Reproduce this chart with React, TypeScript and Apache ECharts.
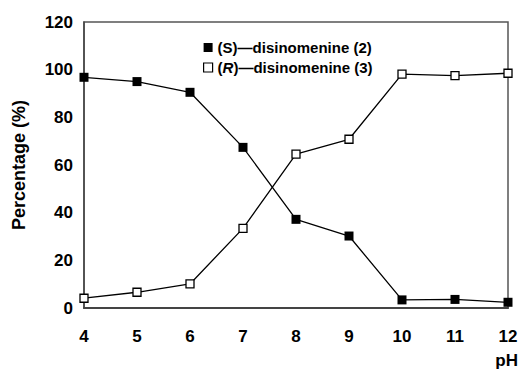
import React, { useEffect, useRef } from "react";
import * as echarts from "echarts";

const phValues = [4, 5, 6, 7, 8, 9, 10, 11, 12];
const sValues = [96.8, 95.0, 90.5, 67.4, 37.2, 30.2, 3.4, 3.6, 2.4];
const rValues = [4.1, 6.6, 10.1, 33.4, 64.6, 70.8, 98.1, 97.5, 98.5];
const seriesNames = ["(S)\u2014disinomenine (2)", "(R)\u2014disinomenine (3)"];
const yAxisTitle = "Percentage (%)";
const xAxisTitle = "pH";

const FONT = "'Liberation Sans', Arial, Helvetica, sans-serif";

export default function App() {
  const ref = useRef<HTMLDivElement>(null);
  useEffect(() => {
    if (!ref.current) return;
    const chart = echarts.init(ref.current, null, { renderer: "svg" });
    const sData = phValues.map((x, i) => [x, sValues[i]]);
    const rData = phValues.map((x, i) => [x, rValues[i]]);
    const legendRich = {
      n: { fontFamily: FONT, fontWeight: 700, fontSize: 15, color: "#000" },
      i: { fontFamily: FONT, fontWeight: 700, fontStyle: "italic", fontSize: 15, color: "#000" },
    };
    chart.setOption({
      animation: false,
      backgroundColor: "#fff",
      grid: {
        left: 84,
        right: 17,
        top: 22,
        bottom: 63,
        show: true,
        borderColor: "#555",
        borderWidth: 1.5,
        containLabel: false,
      },
      legend: {
        orient: "vertical",
        left: 203,
        top: 40,
        itemWidth: 9,
        itemHeight: 9,
        itemGap: 5,
        padding: 0,
        data: [
          { name: seriesNames[0], icon: "rect", itemStyle: { color: "#000", borderColor: "#000", borderWidth: 0 } },
          { name: seriesNames[1], icon: "rect", itemStyle: { color: "#fff", borderColor: "#000", borderWidth: 1.2 } },
        ],
        formatter: (name: string) => {
          if (name === seriesNames[1]) {
            return "{n|(}{i|R}{n|)\u2014disinomenine (3)}";
          }
          return "{n|" + name + "}";
        },
        textStyle: { fontFamily: FONT, fontWeight: 700, fontSize: 15, color: "#000", rich: legendRich },
      },
      xAxis: {
        type: "value",
        min: 4,
        max: 12,
        interval: 1,
        axisLine: { show: true, lineStyle: { color: "#444", width: 2 } },
        axisTick: { show: false },
        splitLine: { show: false },
        axisLabel: {
          margin: 20,
          fontFamily: FONT,
          fontWeight: "bold",
          fontSize: 17,
          color: "#000",
        },
      },
      yAxis: {
        type: "value",
        min: 0,
        max: 120,
        interval: 20,
        name: yAxisTitle,
        nameLocation: "middle",
        nameGap: 56,
        nameTextStyle: { fontFamily: FONT, fontWeight: "bold", fontSize: 18, color: "#000" },
        axisLine: { show: true, lineStyle: { color: "#444", width: 1.5 } },
        axisTick: { show: false },
        splitLine: { show: false },
        axisLabel: {
          margin: 11,
          fontFamily: FONT,
          fontWeight: "bold",
          fontSize: 17,
          color: "#000",
        },
      },
      graphic: [
        {
          type: "text",
          right: 7,
          top: 352,
          style: { text: xAxisTitle, fontFamily: FONT, fontWeight: "bold", fontSize: 17, fill: "#000" },
        },
      ],
      series: [
        {
          name: seriesNames[0],
          type: "line",
          data: sData,
          symbol: "rect",
          symbolSize: 9,
          lineStyle: { color: "#000", width: 1.3 },
          itemStyle: { color: "#000", borderColor: "#000", borderWidth: 0 },
          z: 3,
        },
        {
          name: seriesNames[1],
          type: "line",
          data: rData,
          symbol: "rect",
          symbolSize: 8,
          lineStyle: { color: "#000", width: 1.3 },
          itemStyle: { color: "#fff", borderColor: "#000", borderWidth: 1.3 },
          z: 4,
        },
      ],
    });
    return () => chart.dispose();
  }, []);
  return <div ref={ref} style={{ width: 525, height: 371, position: "absolute", left: 0, top: 0 }} />;
}
